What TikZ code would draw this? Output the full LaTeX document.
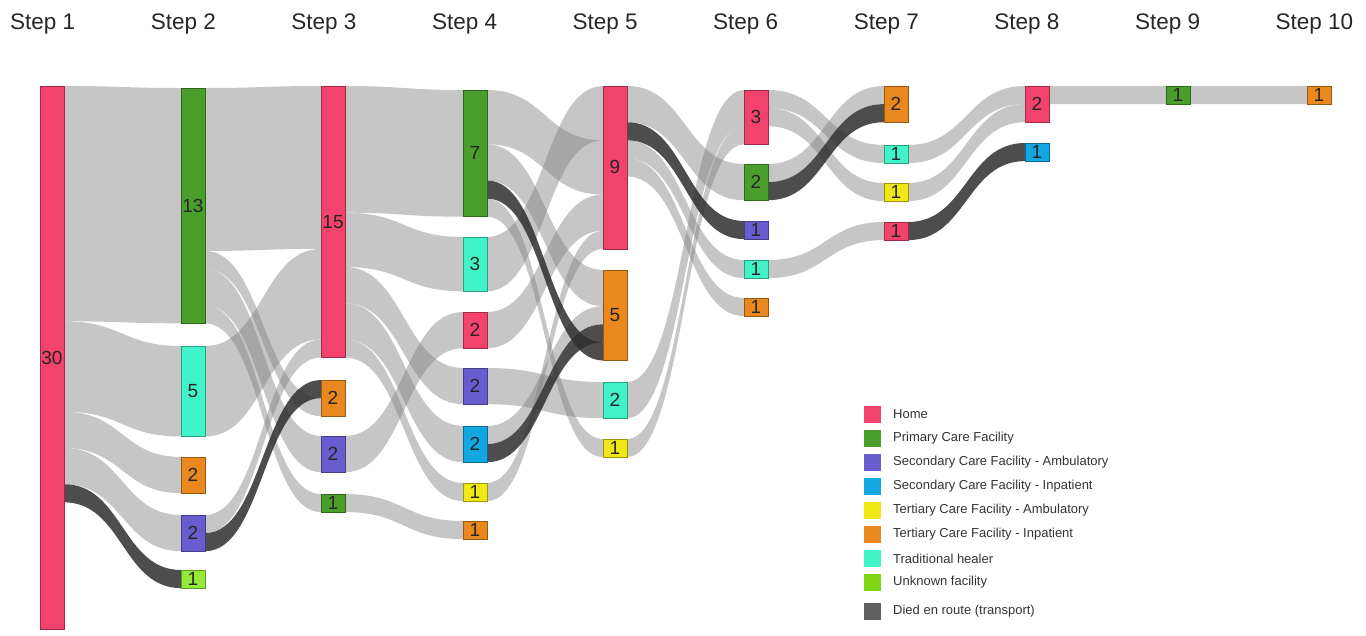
\documentclass[tikz,border=0pt]{standalone}
\usepackage{fontspec}
\setmainfont{Liberation Sans}
\usetikzlibrary{calc}
\definecolor{home}{RGB}{243,66,108}
\definecolor{pri}{RGB}{74,158,44}
\definecolor{secamb}{RGB}{104,92,206}
\definecolor{secinp}{RGB}{18,166,226}
\definecolor{teramb}{RGB}{240,232,22}
\definecolor{terinp}{RGB}{232,136,30}
\definecolor{trad}{RGB}{64,244,200}
\definecolor{unk}{RGB}{148,234,56}
\definecolor{unkleg}{RGB}{128,214,20}
\definecolor{died}{RGB}{96,96,96}
\pgfdeclarelayer{flows}
\pgfsetlayers{flows,main}
\newcommand\U{18.1}
\newcommand\nd[6]{\node[nbox, fill=#5, draw=#5!65!black, minimum height={(#4)*\U*1pt}] (#1) at (#2,#3) {#6};}
\newcommand\flw[6][lt]{%
  \coordinate (fA) at ($(#2.north east)+(0,#3*\U)$);
  \coordinate (fB) at ($(#4.north west)+(0,#5*\U)$);
  \coordinate (fC) at ($(fA)+(0,#6*\U)$);
  \coordinate (fD) at ($(fB)+(0,#6*\U)$);
  \coordinate (fM) at ($(fA)!0.5!(fB)$);
  \fill[#1] (fA) .. controls (fA-|fM) and (fB-|fM) .. (fB) -- (fD) .. controls (fD-|fM) and (fC-|fM) .. (fC) -- cycle;}
\begin{document}
\begin{tikzpicture}[x=1pt,y=-1pt,
  nbox/.style={rectangle, anchor=north west, minimum width=24pt, inner sep=0pt, outer sep=0pt, line width=0.6pt, font=\fontsize{19}{19}\selectfont, text=black!85},
  lt/.style={fill=black!50, fill opacity=0.45},
  dk/.style={fill=black!82, fill opacity=0.85},
  hdr/.style={font=\fontsize{22.5}{22.5}\selectfont, text=black!85, inner sep=0pt, anchor=west},
  legsq/.style={rectangle, minimum width=17pt, minimum height=17pt, inner sep=0pt, anchor=west},
  legtx/.style={font=\fontsize{13}{13}\selectfont, text=black!80, inner sep=0pt, anchor=west}]
\useasboundingbox (0,0) rectangle (1366,635);
% headers
\foreach \i in {1,...,10} {
  \node[hdr] (h\i) at ({10+140.6*(\i-1)},24) {Step \i};
}
% step 1
\nd{aHome}{40}{86}{30}{home}{30}
% step 2
\nd{bPri}{181}{88}{13}{pri}{13}
\nd{bTrad}{181}{346}{5}{trad}{5}
\nd{bTerInp}{181}{457}{2}{terinp}{2}
\nd{bSecAmb}{181}{515}{2}{secamb}{2}
\nd{bUnk}{181}{570}{1}{unk}{1}
% step 3
\nd{cHome}{321}{86}{15}{home}{15}
\nd{cTerInp}{321}{380}{2}{terinp}{2}
\nd{cSecAmb}{321}{436}{2}{secamb}{2}
\nd{cPri}{321}{494}{1}{pri}{1}
% step 4
\nd{dPri}{463}{90}{7}{pri}{7}
\nd{dTrad}{463}{237}{3}{trad}{3}
\nd{dHome}{463}{312}{2}{home}{2}
\nd{dSecAmb}{463}{368}{2}{secamb}{2}
\nd{dSecInp}{463}{426}{2}{secinp}{2}
\nd{dTerAmb}{463}{483}{1}{teramb}{1}
\nd{dTerInp}{463}{521}{1}{terinp}{1}
% step 5
\nd{eHome}{603}{86}{9}{home}{9}
\nd{eTerInp}{603}{270}{5}{terinp}{5}
\nd{eTrad}{603}{382}{2}{trad}{2}
\nd{eTerAmb}{603}{439}{1}{teramb}{1}
% step 6
\nd{fHome}{744}{90}{3}{home}{3}
\nd{fPri}{744}{164}{2}{pri}{2}
\nd{fSecAmb}{744}{221}{1}{secamb}{1}
\nd{fTrad}{744}{260}{1}{trad}{1}
\nd{fTerInp}{744}{298}{1}{terinp}{1}
% step 7
\nd{gTerInp}{884}{86}{2}{terinp}{2}
\nd{gTrad}{884}{145}{1}{trad}{1}
\nd{gTerAmb}{884}{183}{1}{teramb}{1}
\nd{gHome}{884}{222}{1}{home}{1}
% step 8
\nd{hHome}{1025}{86}{2}{home}{2}
\nd{hSecInp}{1025}{143}{1}{secinp}{1}
% step 9
\nd{iPri}{1166}{86}{1}{pri}{1}
% step 10
\nd{jTerInp}{1307}{86}{1}{terinp}{1}
\begin{pgfonlayer}{flows}
% 1 -> 2
\flw{aHome}{0}{bPri}{0}{13}
\flw{aHome}{13}{bTrad}{0}{5}
\flw{aHome}{18}{bTerInp}{0}{2}
\flw{aHome}{20}{bSecAmb}{0}{2}
% 2 -> 3
\flw{bPri}{0}{cHome}{0}{9}
\flw{bTrad}{0}{cHome}{9}{5}
\flw{bSecAmb}{0}{cHome}{14}{1}
\flw{bPri}{9}{cTerInp}{1}{1}
\flw{bPri}{10}{cSecAmb}{0}{2}
\flw{bPri}{12}{cPri}{0}{1}
% 3 -> 4
\flw{cHome}{0}{dPri}{0}{7}
\flw{cHome}{7}{dTrad}{0}{3}
\flw{cHome}{10}{dSecAmb}{0}{2}
\flw{cHome}{12}{dSecInp}{0}{2}
\flw{cHome}{14}{dTerAmb}{0}{1}
\flw{cSecAmb}{0}{dHome}{0}{2}
\flw{cPri}{0}{dTerInp}{0}{1}
% 4 -> 5
\flw{dTrad}{0}{eHome}{0}{3}
\flw{dPri}{0}{eHome}{3}{3}
\flw{dHome}{0}{eHome}{6}{2}
\flw{dTerAmb}{0}{eHome}{8}{1}
\flw{dPri}{3}{eTerInp}{0}{2}
\flw{dSecInp}{0}{eTerInp}{2}{1}
\flw{dSecAmb}{0}{eTrad}{0}{2}
\flw{dPri}{6}{eTerAmb}{0}{1}
% 5 -> 6
\flw{eHome}{0}{fPri}{0}{2}
\flw{eHome}{3}{fTrad}{0}{1}
\flw{eHome}{4}{fTerInp}{0}{1}
\flw{eTrad}{0}{fHome}{0}{2}
\flw{eTerAmb}{0}{fHome}{2}{1}
% 6 -> 7
\flw{fHome}{0}{gTrad}{0}{1}
\flw{fHome}{1}{gTerAmb}{0}{1}
\flw{fPri}{0}{gTerInp}{0}{1}
\flw{fTrad}{0}{gHome}{0}{1}
% 7 -> 8
\flw{gTrad}{0}{hHome}{0}{1}
\flw{gTerAmb}{0}{hHome}{1}{1}
% 8 -> 9 -> 10
\flw{hHome}{0}{iPri}{0}{1}
\flw{iPri}{0}{jTerInp}{0}{1}
% died en route
\flw[dk]{aHome}{22}{bUnk}{0}{1}
\flw[dk]{bSecAmb}{1}{cTerInp}{0}{1}
\flw[dk]{dSecInp}{1}{eTerInp}{3}{1}
\flw[dk]{dPri}{5}{eTerInp}{4}{1}
\flw[dk]{eHome}{2}{fSecAmb}{0}{1}
\flw[dk]{fPri}{1}{gTerInp}{1}{1}
\flw[dk]{gHome}{0}{hSecInp}{0}{1}
\end{pgfonlayer}
% legend
\foreach \n/\c/\t [count=\k] in {
  lhome/home/Home,
  lpri/pri/Primary Care Facility,
  lsecamb/secamb/Secondary Care Facility - Ambulatory,
  lsecinp/secinp/Secondary Care Facility - Inpatient,
  lteramb/teramb/Tertiary Care Facility - Ambulatory,
  lterinp/terinp/Tertiary Care Facility - Inpatient,
  ltrad/trad/Traditional healer,
  lunk/unkleg/Unknown facility} {
  \node[legsq, fill=\c] (\n) at (864,{390.5+24*\k}) {};
  \node[legtx] (\n t) at (893,{390.5+24*\k}) {\t};
}
\node[legsq, fill=died] (ldied) at (864,611) {};
\node[legtx] (ldiedt) at (893,611) {Died en route (transport)};
\end{tikzpicture}
\end{document}
